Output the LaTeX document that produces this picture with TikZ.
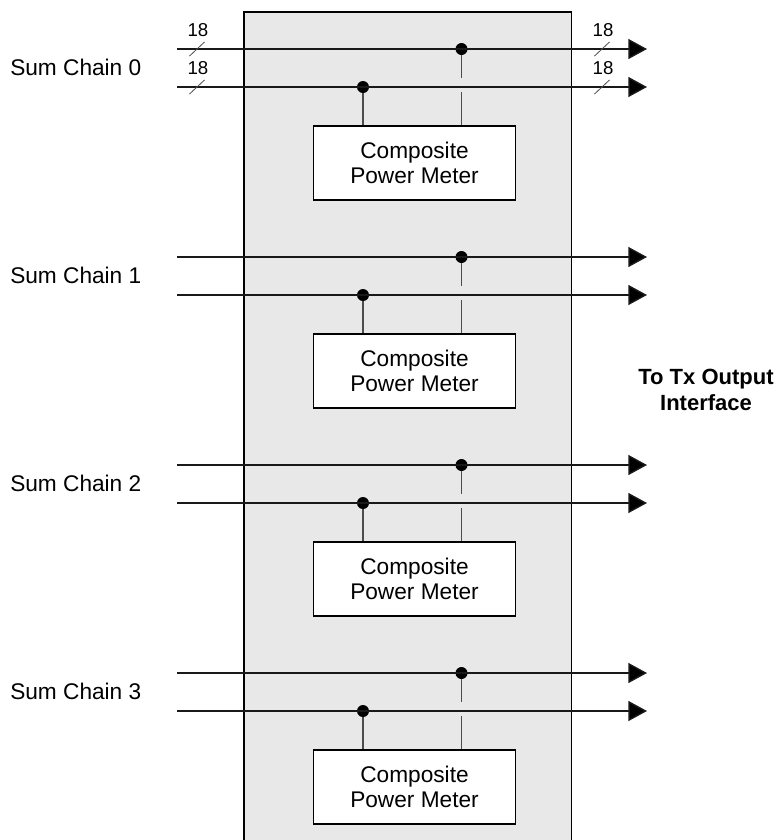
\documentclass[tikz,border=0pt]{standalone}
\usepackage{fontspec}
\setmainfont{Liberation Sans}
\usetikzlibrary{arrows.meta}

\begin{document}
\begin{tikzpicture}[x=0.75pt,y=-0.75pt,>={Triangle[length=14pt,width=15pt]},
    bus/.style={line width=1.1pt,draw=black!90,-{Triangle[length=14pt,width=15pt,fill=black]}},
    tap/.style={line width=0.9pt,draw=black!70},
    slash/.style={line width=0.6pt,draw=black!70},
    dot/.style={circle,fill=black,inner sep=0pt,minimum size=9pt},
    meter/.style={draw,line width=0.8pt,fill=white,minimum width=151.5pt,
      minimum height=55.5pt,align=center,font=\fontsize{17}{18.75}\selectfont},
    chain/.style={anchor=west,inner sep=0pt,font=\fontsize{17}{19}\selectfont},
    buswidth/.style={inner sep=0pt,font=\fontsize{14}{16}\selectfont}]
    \useasboundingbox (0,0) rectangle (780,840);
    \fill[black!9] (244,12) rectangle (571.5,840);
    \draw[line width=0.8pt] (244,840) |- (571.5,12) -- (571.5,840);
    \foreach \i in {0,...,3} {
      \pgfmathsetmacro\y{49+208*\i}
      \coordinate (a\i) at (177,\y);
      \coordinate (b\i) at (177,\y+38);
      \coordinate (ae\i) at (647,\y);
      \coordinate (be\i) at (647,\y+38);
      \node[chain] (sc\i) at (10,\y+18) {Sum Chain \i};
      \node[meter] (pm\i) at (414.5,\y+114) {Composite\\Power Meter};
      \node[dot] (ta\i) at (461.5,\y) {};
      \node[dot] (tb\i) at (363,\y+38) {};
      \draw[bus] (a\i) -- (ae\i);
      \draw[bus] (b\i) -- (be\i);
      \draw[tap] (tb\i) -- (tb\i |- pm\i.north);
      \draw[tap] (ta\i) -- ++(0,29);
      \draw[tap] (ta\i |- pm\i.north) -- ++(0,-33);
    }
    % bus widths on the first chain
    \node[buswidth] (wa) at (198,30) {18};
    \node[buswidth] (wb) at (198,68) {18};
    \node[buswidth] (wc) at (603,30) {18};
    \node[buswidth] (wd) at (603,68) {18};
    \coordinate (sa) at (197,49);
    \coordinate (sb) at (197,87);
    \coordinate (sc) at (602,49);
    \coordinate (sd) at (602,87);
    \foreach \s in {sa,sb,sc,sd}
      \draw[slash] (\s) +(-7.5,7) -- +(7.5,-7);
    \node[align=center,inner sep=0pt,font=\bfseries\fontsize{16.5}{19.5}\selectfont]
      (tx) at (706,390) {To Tx Output\\Interface};
  \end{tikzpicture}
\end{document}
